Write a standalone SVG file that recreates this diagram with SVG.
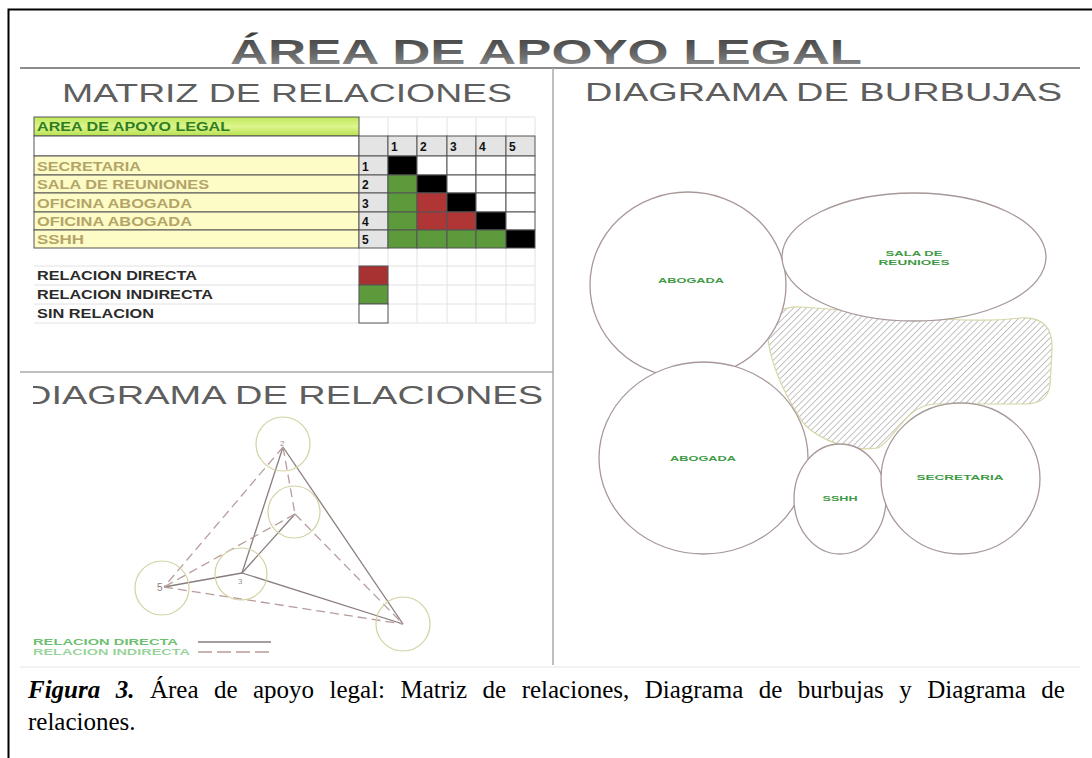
<svg xmlns="http://www.w3.org/2000/svg" width="1092" height="758" viewBox="0 0 1092 758">
<defs>
<linearGradient id="tg" x1="0" y1="0" x2="0" y2="1"><stop offset="0" stop-color="#3a3a3a"/><stop offset="0.6" stop-color="#6a6a6a"/><stop offset="1" stop-color="#a0a0a0"/></linearGradient>
<linearGradient id="gg" x1="0" y1="0" x2="0" y2="1"><stop offset="0" stop-color="#bfe85a"/><stop offset="0.5" stop-color="#dcf58c"/><stop offset="1" stop-color="#b8e050"/></linearGradient>
<pattern id="hatch" patternUnits="userSpaceOnUse" width="4.5" height="4.5" patternTransform="rotate(45)"><line x1="0" y1="0" x2="0" y2="4.5" stroke="#7a7a7a" stroke-width="0.9"/></pattern>
<clipPath id="clipD"><rect x="33" y="370" width="520" height="50"/></clipPath>
</defs>
<style>
.sub{font-family:"Liberation Sans",Arial,sans-serif;font-size:26px;fill:#5e5e5e}
.lbl{font-family:"Liberation Sans",Arial,sans-serif;font-weight:bold;font-size:13px;fill:#b3a468}
.num{font-family:"Liberation Sans",Arial,sans-serif;font-weight:bold;font-size:12px;fill:#111}
.leg{font-family:"Liberation Sans",Arial,sans-serif;font-weight:bold;font-size:12.5px;fill:#2a2a2a}
.cell{stroke:#555;stroke-width:1}
.faint{stroke:#e2e2e2;stroke-width:1;fill:none}
.ring{fill:none;stroke:#d2d2a4;stroke-width:1.2}
.solid{stroke:#8a7c7c;stroke-width:1.3;fill:none}
.dash{stroke:#b89c9c;stroke-width:1.3;fill:none;stroke-dasharray:9 5}
.bub{fill:#fff;stroke:#a89898;stroke-width:1.3}
.btx{font-family:"Liberation Sans",Arial,sans-serif;font-weight:bold;font-size:7.5px;fill:#3f9a46;text-anchor:middle}
.gtx{font-family:"Liberation Sans",Arial,sans-serif;font-weight:bold;font-size:8.5px;fill:#6cbf70}
.cap{font-family:"Liberation Serif","Times New Roman",serif;font-size:25px;fill:#000}
</style>
<rect x="0" y="0" width="1092" height="758" fill="#fff"/>
<rect x="8.5" y="9.5" width="1100" height="760" fill="none" stroke="#000" stroke-width="2"/>
<g id="panel-frame">
<line x1="20" y1="68" x2="1080" y2="68" stroke="#8c8c8c" stroke-width="2"/>
<line x1="553" y1="68" x2="553" y2="665" stroke="#a8a8a8" stroke-width="1.5"/>
<line x1="20" y1="372" x2="553" y2="372" stroke="#a8a8a8" stroke-width="1.5"/>
<line x1="20" y1="667" x2="1080" y2="667" stroke="#eeeeee" stroke-width="1.5"/>
</g>
<g id="title"><text x="230" y="64" font-family="Liberation Sans,Arial,sans-serif" font-weight="bold" font-size="35" fill="url(#tg)" textLength="632" lengthAdjust="spacingAndGlyphs">ÁREA DE APOYO LEGAL</text></g>
<g id="subtitles">
<text class="sub" x="62" y="102" textLength="450" lengthAdjust="spacingAndGlyphs">MATRIZ DE RELACIONES</text>
<text class="sub" x="585" y="101" textLength="477" lengthAdjust="spacingAndGlyphs">DIAGRAMA DE BURBUJAS</text>
<text class="sub" x="24" y="404" textLength="519" lengthAdjust="spacingAndGlyphs" clip-path="url(#clipD)">DIAGRAMA DE RELACIONES</text>
</g>
<g id="matrix">
<g class="faint">
<line x1="359" y1="117" x2="535" y2="117"/>
<line x1="388" y1="117" x2="388" y2="136"/><line x1="417" y1="117" x2="417" y2="136"/><line x1="447" y1="117" x2="447" y2="136"/><line x1="476" y1="117" x2="476" y2="136"/><line x1="506" y1="117" x2="506" y2="136"/><line x1="535" y1="117" x2="535" y2="136"/>
<line x1="34" y1="266" x2="535" y2="266"/><line x1="34" y1="285" x2="535" y2="285"/><line x1="34" y1="304" x2="535" y2="304"/><line x1="34" y1="323" x2="535" y2="323"/>
<line x1="359" y1="248" x2="359" y2="323"/><line x1="388" y1="248" x2="388" y2="323"/><line x1="417" y1="248" x2="417" y2="323"/><line x1="447" y1="248" x2="447" y2="323"/><line x1="476" y1="248" x2="476" y2="323"/><line x1="506" y1="248" x2="506" y2="323"/><line x1="535" y1="248" x2="535" y2="323"/>
</g>
<rect class="cell" x="34" y="117" width="325" height="19" fill="url(#gg)"/>
<text x="37" y="131" font-family="Liberation Sans,Arial,sans-serif" font-weight="bold" font-size="13" fill="#2f7d22" textLength="193" lengthAdjust="spacingAndGlyphs">AREA DE APOYO LEGAL</text>
<rect class="cell" x="34" y="136" width="325" height="20" fill="#fff"/>
<rect class="cell" x="359" y="136" width="29" height="20" fill="#e4e4e4"/>
<g class="cell" fill="#e4e4e4">
<rect x="388" y="136" width="29" height="20"/><rect x="417" y="136" width="30" height="20"/><rect x="447" y="136" width="29" height="20"/><rect x="476" y="136" width="30" height="20"/><rect x="506" y="136" width="29" height="20"/>
</g>
<text class="num" x="391" y="151">1</text><text class="num" x="420" y="151">2</text><text class="num" x="450" y="151">3</text><text class="num" x="479" y="151">4</text><text class="num" x="509" y="151">5</text>
<g class="cell" fill="#fdfbc6">
<rect x="34" y="156" width="325" height="19"/><rect x="34" y="175" width="325" height="18"/><rect x="34" y="193" width="325" height="19"/><rect x="34" y="212" width="325" height="18"/><rect x="34" y="230" width="325" height="18"/>
</g>
<g class="cell" fill="#e4e4e4">
<rect x="359" y="156" width="29" height="19"/><rect x="359" y="175" width="29" height="18"/><rect x="359" y="193" width="29" height="19"/><rect x="359" y="212" width="29" height="18"/><rect x="359" y="230" width="29" height="18"/>
</g>
<text class="lbl" x="37" y="171" textLength="104" lengthAdjust="spacingAndGlyphs">SECRETARIA</text>
<text class="lbl" x="37" y="189" textLength="172" lengthAdjust="spacingAndGlyphs">SALA DE REUNIONES</text>
<text class="lbl" x="37" y="208" textLength="155" lengthAdjust="spacingAndGlyphs">OFICINA ABOGADA</text>
<text class="lbl" x="37" y="226" textLength="155" lengthAdjust="spacingAndGlyphs">OFICINA ABOGADA</text>
<text class="lbl" x="37" y="244" textLength="47" lengthAdjust="spacingAndGlyphs">SSHH</text>
<text class="num" x="362" y="171">1</text><text class="num" x="362" y="189">2</text><text class="num" x="362" y="208">3</text><text class="num" x="362" y="226">4</text><text class="num" x="362" y="244">5</text>
<g class="cell">
<rect x="388" y="156" width="29" height="19" fill="#000"/><rect x="417" y="156" width="30" height="19" fill="#fff"/><rect x="447" y="156" width="29" height="19" fill="#fff"/><rect x="476" y="156" width="30" height="19" fill="#fff"/><rect x="506" y="156" width="29" height="19" fill="#fff"/>
<rect x="388" y="175" width="29" height="18" fill="#5c9a3c"/><rect x="417" y="175" width="30" height="18" fill="#000"/><rect x="447" y="175" width="29" height="18" fill="#fff"/><rect x="476" y="175" width="30" height="18" fill="#fff"/><rect x="506" y="175" width="29" height="18" fill="#fff"/>
<rect x="388" y="193" width="29" height="19" fill="#5c9a3c"/><rect x="417" y="193" width="30" height="19" fill="#b03535"/><rect x="447" y="193" width="29" height="19" fill="#000"/><rect x="476" y="193" width="30" height="19" fill="#fff"/><rect x="506" y="193" width="29" height="19" fill="#fff"/>
<rect x="388" y="212" width="29" height="18" fill="#5c9a3c"/><rect x="417" y="212" width="30" height="18" fill="#b03535"/><rect x="447" y="212" width="29" height="18" fill="#b03535"/><rect x="476" y="212" width="30" height="18" fill="#000"/><rect x="506" y="212" width="29" height="18" fill="#fff"/>
<rect x="388" y="230" width="29" height="18" fill="#5c9a3c"/><rect x="417" y="230" width="30" height="18" fill="#5c9a3c"/><rect x="447" y="230" width="29" height="18" fill="#5c9a3c"/><rect x="476" y="230" width="30" height="18" fill="#5c9a3c"/><rect x="506" y="230" width="29" height="18" fill="#000"/>
</g>
</g>
<g id="matrix-legend">
<rect class="cell" x="359" y="266" width="29" height="19" fill="#a83232"/>
<rect class="cell" x="359" y="285" width="29" height="19" fill="#5c9a3c"/>
<rect class="cell" x="359" y="304" width="29" height="19" fill="#fff"/>
<text class="leg" x="37" y="280" textLength="160" lengthAdjust="spacingAndGlyphs">RELACION DIRECTA</text>
<text class="leg" x="37" y="299" textLength="176" lengthAdjust="spacingAndGlyphs">RELACION INDIRECTA</text>
<text class="leg" x="37" y="318" textLength="117" lengthAdjust="spacingAndGlyphs">SIN RELACION</text>
</g>
<g id="rel-connectors">
<line class="solid" x1="283" y1="447" x2="403" y2="624"/>
<line class="solid" x1="283" y1="447" x2="242" y2="573"/>
<line class="solid" x1="242" y1="573" x2="295" y2="514"/>
<line class="solid" x1="242" y1="573" x2="164" y2="587"/>
<line class="solid" x1="242" y1="573" x2="403" y2="624"/>
<line class="dash" x1="283" y1="447" x2="164" y2="587"/>
<line class="dash" x1="283" y1="447" x2="295" y2="514"/>
<line class="dash" x1="295" y1="514" x2="164" y2="587"/>
<line class="dash" x1="295" y1="514" x2="403" y2="624"/>
<line class="dash" x1="164" y1="587" x2="403" y2="624"/>
</g>
<g id="rel-node-2"><circle class="ring" cx="283" cy="444" r="27"/><text x="280" y="446" font-family="Liberation Sans,Arial,sans-serif" font-size="8" fill="#9a8f8f">2</text></g>
<g id="rel-node-1"><circle class="ring" cx="294" cy="512" r="26"/></g>
<g id="rel-node-3"><circle class="ring" cx="241" cy="574" r="26"/><text x="238" y="584" font-family="Liberation Sans,Arial,sans-serif" font-size="8" fill="#9a8f8f">3</text></g>
<g id="rel-node-5"><circle class="ring" cx="162" cy="588" r="27"/><text x="157" y="591" font-family="Liberation Sans,Arial,sans-serif" font-size="10" fill="#8a7c7c">5</text></g>
<g id="rel-node-4"><circle class="ring" cx="403" cy="624" r="27"/></g>
<g id="rel-legend">
<text class="gtx" x="33" y="645" textLength="145" lengthAdjust="spacingAndGlyphs">RELACION DIRECTA</text>
<text class="gtx" x="33" y="655" textLength="157" lengthAdjust="spacingAndGlyphs" fill-opacity="0.7">RELACION INDIRECTA</text>
<line class="solid" x1="198" y1="642" x2="271" y2="642"/>
<line class="dash" x1="198" y1="652" x2="271" y2="652" style="stroke-dasharray:14 5"/>
</g>
<g id="bubble-hatch"><path d="M768,340 C766,318 778,306 800,307 C860,310 960,326 1020,318 C1045,316 1053,330 1052,350 L1050,385 C1048,400 1038,404 1025,404 L935,404 C905,405 895,440 878,448 C850,452 820,440 805,425 C790,405 772,370 768,340 Z" fill="url(#hatch)" stroke="#d6d6a8" stroke-width="1.2"/></g>
<g id="bubble-abogada-1"><ellipse class="bub" cx="688" cy="285" rx="98" ry="93"/><text class="btx" x="691" y="283" textLength="66" lengthAdjust="spacingAndGlyphs">ABOGADA</text></g>
<g id="bubble-sala"><ellipse class="bub" cx="914" cy="257" rx="132" ry="64"/><text class="btx" x="914" y="256" textLength="57" lengthAdjust="spacingAndGlyphs">SALA DE</text><text class="btx" x="914" y="265" textLength="71" lengthAdjust="spacingAndGlyphs">REUNIOES</text></g>
<g id="bubble-abogada-2"><ellipse class="bub" cx="703.5" cy="458" rx="104.5" ry="96"/><text class="btx" x="703" y="461" textLength="66" lengthAdjust="spacingAndGlyphs">ABOGADA</text></g>
<g id="bubble-sshh"><ellipse class="bub" cx="840" cy="499" rx="46" ry="55"/><text class="btx" x="840" y="501" textLength="35" lengthAdjust="spacingAndGlyphs">SSHH</text></g>
<g id="bubble-secretaria"><ellipse class="bub" cx="960.5" cy="478.5" rx="79.5" ry="75.5"/><text class="btx" x="960" y="480" textLength="87" lengthAdjust="spacingAndGlyphs">SECRETARIA</text></g>
<g id="caption">
<text class="cap" x="28" y="698" word-spacing="9.2"><tspan font-weight="bold" font-style="italic">Figura 3.</tspan> Área de apoyo legal: Matriz de relaciones, Diagrama de burbujas y Diagrama de</text>
<text class="cap" x="28" y="730">relaciones.</text>
</g>
</svg>
